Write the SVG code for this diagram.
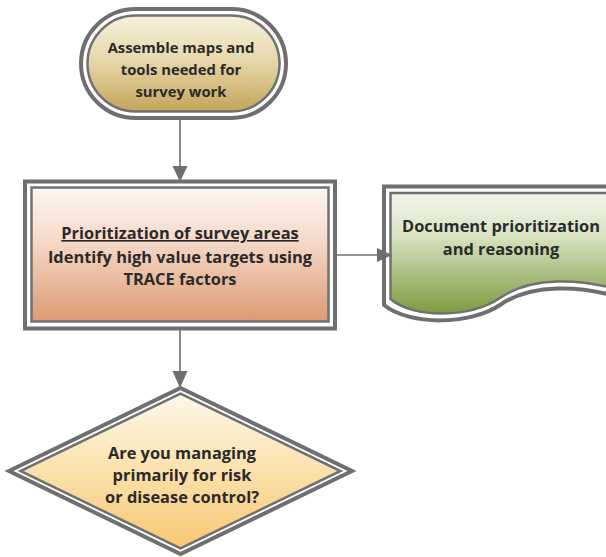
<svg xmlns="http://www.w3.org/2000/svg" width="606" height="557" viewBox="0 0 606 557">
  <style>
    .outer { fill: #ffffff; stroke: #6f6f6f; stroke-width: 4; }
    .inner { stroke: #707070; stroke-width: 2.5; }
    .lbl { font-family: "Open Sans", "DejaVu Sans", sans-serif; font-weight: bold; font-size: 16.4px; fill: #2a2a2a; text-anchor: middle; }
    .small { font-size: 14.8px; }
    .wire { stroke: #6f6f6f; stroke-width: 1.6; fill: none; }
    .head { fill: #6f6f6f; }
  </style>
  <defs>
    <linearGradient id="gTan" x1="0" y1="0" x2="0" y2="1">
      <stop offset="0" stop-color="#f6f1dc"/>
      <stop offset="0.45" stop-color="#e8d9ad"/>
      <stop offset="1" stop-color="#c4a45a"/>
    </linearGradient>
    <linearGradient id="gSalmon" x1="0" y1="0" x2="0" y2="1">
      <stop offset="0" stop-color="#fdf6f2"/>
      <stop offset="0.4" stop-color="#f5d9c9"/>
      <stop offset="1" stop-color="#dc9a72"/>
    </linearGradient>
    <linearGradient id="gGreen" x1="0" y1="0" x2="0" y2="1">
      <stop offset="0" stop-color="#f3f6ec"/>
      <stop offset="0.35" stop-color="#d9e3c2"/>
      <stop offset="1" stop-color="#7d9b40"/>
    </linearGradient>
    <linearGradient id="gAmber" x1="0" y1="0" x2="0" y2="1">
      <stop offset="0" stop-color="#fdf8ea"/>
      <stop offset="0.4" stop-color="#fbe6b8"/>
      <stop offset="1" stop-color="#f7c773"/>
    </linearGradient>
  </defs>

  <!-- Start: assemble maps and tools -->
  <g id="start">
    <rect class="outer" x="81" y="9" width="205" height="109" rx="54.5"/>
    <rect class="inner" fill="url(#gTan)" x="87.5" y="15.5" width="192" height="96" rx="48"/>
    <text class="lbl small" x="181" y="53">Assemble maps and</text>
    <text class="lbl small" x="181" y="75">tools needed for</text>
    <text class="lbl small" x="181" y="97">survey work</text>
  </g>

  <!-- Process: prioritization of survey areas -->
  <g id="prioritize">
    <rect class="outer" x="25" y="181.5" width="310" height="147"/>
    <rect class="inner" fill="url(#gSalmon)" x="31.5" y="187.5" width="297" height="134"/>
    <text class="lbl" x="180" y="239" text-decoration="underline">Prioritization of survey areas</text>
    <text class="lbl" x="180" y="263">Identify high value targets using</text>
    <text class="lbl" x="180" y="285">TRACE factors</text>
  </g>

  <!-- Document: prioritization and reasoning -->
  <g id="document">
    <path class="outer" d="M384,305 V186.5 H625 V299 C580,284 530,284 500,305 C470,325 410,326 384,305 Z"/>
    <path class="inner" fill="url(#gGreen)" d="M390.5,299 V193 H625 V292 C580,277 530,277 500,298 C470,318 414,319 390.5,299 Z"/>
    <text class="lbl" x="501" y="232">Document prioritization</text>
    <text class="lbl" x="501" y="255">and reasoning</text>
  </g>

  <!-- Decision: risk or disease control -->
  <g id="decision">
    <path class="outer" d="M180.5,388 L352,471 L180.5,554 L9,471 Z"/>
    <path class="inner" fill="url(#gAmber)" d="M180.5,393.6 L340.5,471 L180.5,548.4 L20.5,471 Z"/>
    <text class="lbl" x="182" y="459">Are you managing</text>
    <text class="lbl" x="182" y="481">primarily for risk</text>
    <text class="lbl" x="182" y="503">or disease control?</text>
  </g>

  <!-- Connectors -->
  <g id="connectors">
    <line class="wire" x1="180" y1="118" x2="180" y2="167"/>
    <polygon class="head" points="172.5,166 187.5,166 180,182"/>
    <line class="wire" x1="335" y1="255" x2="378" y2="255"/>
    <polygon class="head" points="377,248 377,262 392,255"/>
    <line class="wire" x1="180" y1="328.5" x2="180" y2="372"/>
    <polygon class="head" points="172.5,371 187.5,371 180,388"/>
  </g>
</svg>
